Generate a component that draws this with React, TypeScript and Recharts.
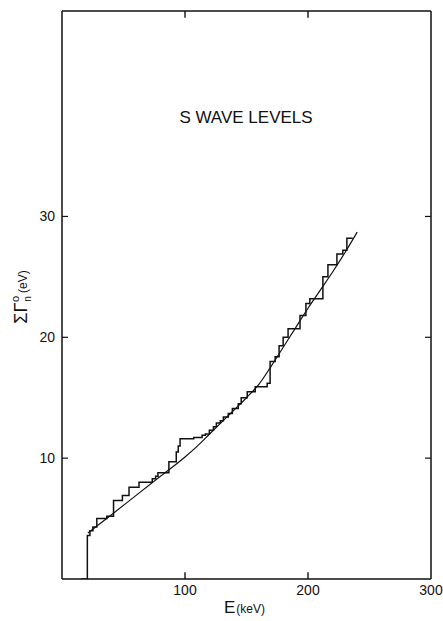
import React from "react";
import { LineChart, Line, XAxis, YAxis } from "recharts";

// Cumulative reduced neutron width, staircase (E in keV, sum in eV)
const STEP_E = [
  15.4, 20.6, 22.7, 25.1, 28.3, 36.4, 41.9, 49.1, 54.5, 62.6, 73.4, 76.1, 78.0,
  86.9, 92.9, 94.5, 96.0, 107.1, 113.9, 116.6, 119.8, 123.1, 125.5, 128.7,
  131.2, 135.2, 138.5, 143.3, 145.7, 150.6, 157.1, 166.8, 169.2, 173.3, 176.5,
  179.8, 183.8, 193.5, 198.3, 201.5, 212.1, 216.2, 223.5, 228.3, 231.6, 236.4,
];
const STEP_SUM = [
  0, 3.6, 4.0, 4.3, 5.0, 5.2, 6.5, 6.9, 7.6, 8.0, 8.3, 8.5, 8.8,
  9.7, 10.5, 11.0, 11.6, 11.7, 11.9, 12.0, 12.3, 12.6, 12.9, 13.1,
  13.4, 13.7, 14.1, 14.5, 15.0, 15.5, 15.9, 16.2, 18.0, 18.4, 19.3,
  20.0, 20.7, 21.8, 22.8, 23.2, 25.0, 26.0, 26.9, 27.2, 28.2, 28.2,
];

// Smooth fitted curve
const FIT_E = [21, 40, 60, 80, 100, 110, 120, 130, 140, 150, 160, 170, 180, 190, 200, 210, 220, 230, 240];
const FIT_SUM = [3.8, 5.3, 6.9, 8.5, 10.1, 11.0, 12.0, 13.0, 14.0, 15.0, 16.1, 17.6, 19.2, 20.8, 22.4, 23.9, 25.4, 27.0, 28.7];

const X_TICKS = [100, 200, 300];
const X_INNER_TICKS = [100, 200];
const Y_TICKS = [10, 20, 30];
const X_DOMAIN: [number, number] = [0, 300];
const Y_DOMAIN: [number, number] = [0, 47];
const TICK_LEN = 0.55; // inward frame tick length, in y units

const INK = "#111";
const FONT = "'Liberation Sans', Arial, sans-serif";

const stepData = STEP_E.map((e, i) => ({ e, v: STEP_SUM[i] }));
const fitData = FIT_E.map((e, i) => ({ e, v: FIT_SUM[i] }));

// short vertical frame ticks on bottom and top edges, separated by gaps
const frameTickData = X_INNER_TICKS.flatMap((t) => [
  { e: t, v: Y_DOMAIN[0] },
  { e: t, v: Y_DOMAIN[0] + TICK_LEN },
  { e: t, v: null },
  { e: t, v: Y_DOMAIN[1] - TICK_LEN },
  { e: t, v: Y_DOMAIN[1] },
  { e: t, v: null },
]);

const NoLabel = () => <g />;

const XTitle = (props: any) => {
  const vb = props.viewBox || {};
  const cx = vb.x + vb.width / 2;
  return (
    <text x={cx - 2} y={vb.y + 34} textAnchor="middle" fill={INK} fontFamily={FONT}>
      <tspan fontSize={17}>E</tspan>
      <tspan fontSize={12} dx={1}>(keV)</tspan>
    </text>
  );
};

const YTitle = (props: any) => {
  const vb = props.viewBox || {};
  const cx = 27;
  const cy = vb.y + vb.height / 2 + 2;
  return (
    <text
      x={cx}
      y={cy}
      textAnchor="middle"
      fill={INK}
      fontFamily={FONT}
      transform={`rotate(-90, ${cx}, ${cy})`}
    >
      <tspan fontSize={18}>ΣΓ</tspan>
      <tspan fontSize={10} dx={1} dy={4}>n</tspan>
      <tspan fontSize={11} dx={-6} dy={-12}>o</tspan>
      <tspan fontSize={12} dx={3} dy={8}>(eV)</tspan>
    </text>
  );
};

export default function App() {
  return (
    <div style={{ position: "absolute", left: 0, top: 0, width: 443, height: 621, background: "#fff" }}>
      <LineChart
        width={443}
        height={621}
        margin={{ top: 11, right: 12, bottom: 12, left: 0 }}
      >
        <XAxis
          dataKey="e"
          type="number"
          domain={X_DOMAIN}
          ticks={X_TICKS}
          allowDataOverflow
          interval={0}
          tickLine={false}
          tickSize={6}
          tickMargin={0}
          height={30}
          axisLine={{ stroke: INK, strokeWidth: 1.5 }}
          tick={{ fill: INK, fontSize: 14, fontFamily: FONT }}
          label={{ content: <XTitle /> }}
        />
        <XAxis
          xAxisId="top"
          orientation="top"
          type="number"
          domain={X_DOMAIN}
          allowDataOverflow
          ticks={X_INNER_TICKS}
          interval={0}
          mirror
          tickLine={false}
          tick={NoLabel}
          height={30}
          axisLine={{ stroke: INK, strokeWidth: 1.5 }}
        />
        <YAxis
          type="number"
          domain={Y_DOMAIN}
          ticks={Y_TICKS}
          allowDataOverflow
          width={62}
          tickLine={false}
          tickSize={6}
          tickMargin={1}
          axisLine={{ stroke: INK, strokeWidth: 1.5 }}
          tick={{ fill: INK, fontSize: 14, fontFamily: FONT }}
          label={{ content: <YTitle /> }}
        />
        <YAxis
          yAxisId="leftTicks"
          type="number"
          domain={Y_DOMAIN}
          allowDataOverflow
          ticks={Y_TICKS}
          interval={0}
          mirror
          tick={NoLabel}
          tickSize={6}
          axisLine={false}
          tickLine={{ stroke: INK, strokeWidth: 1.2 }}
        />
        <YAxis
          yAxisId="right"
          orientation="right"
          type="number"
          domain={Y_DOMAIN}
          allowDataOverflow
          ticks={Y_TICKS}
          interval={0}
          mirror
          tick={NoLabel}
          tickSize={6}
          axisLine={{ stroke: INK, strokeWidth: 1.5 }}
          tickLine={{ stroke: INK, strokeWidth: 1.2 }}
        />
        <Line
          data={frameTickData}
          dataKey="v"
          type="linear"
          stroke={INK}
          strokeWidth={1.4}
          dot={false}
          connectNulls={false}
          isAnimationActive={false}
        />
        <Line
          data={stepData}
          dataKey="v"
          type="stepAfter"
          stroke={INK}
          strokeWidth={1.5}
          dot={false}
          isAnimationActive={false}
        />
        <Line
          data={fitData}
          dataKey="v"
          type="monotone"
          stroke={INK}
          strokeWidth={1.2}
          dot={false}
          isAnimationActive={false}
        />
      </LineChart>
      <div
        style={{
          position: "absolute",
          left: 246,
          top: 108,
          transform: "translateX(-50%)",
          whiteSpace: "nowrap",
          fontFamily: FONT,
          fontSize: 17,
          lineHeight: "20px",
          color: INK,
        }}
      >
        S WAVE LEVELS
      </div>
    </div>
  );
}
